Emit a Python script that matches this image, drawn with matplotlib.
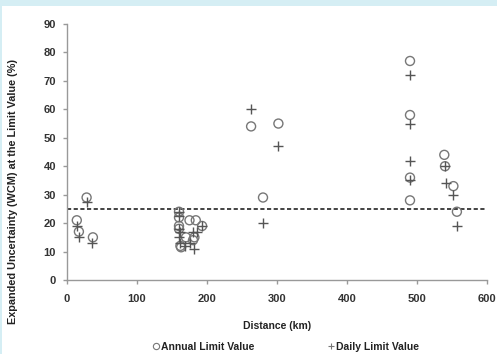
import matplotlib
matplotlib.use("Agg")
import matplotlib.pyplot as plt
from matplotlib.patches import Rectangle
from matplotlib.lines import Line2D

plt.rcParams['font.family'] = ['Liberation Sans', 'DejaVu Sans']

annual_x = [14, 17, 28, 37,
            160, 160, 160, 160, 162, 163, 175, 184, 170, 180, 182, 193,
            263, 302, 280,
            490, 490, 490, 490,
            539, 540, 552, 557]
annual_y = [21, 17, 29, 15,
            24, 22, 19, 18, 12, 11.5, 21, 21, 15, 14, 15, 19,
            54, 55, 29,
            77, 58, 36, 28,
            44, 40, 33, 24]

daily_x = [14, 17, 28, 36,
           160, 160, 160, 161, 160, 162, 168, 175, 181, 180, 185, 193,
           263, 302, 280,
           490, 490, 490, 490,
           540, 541, 552, 557]
daily_y = [19, 15, 27.5, 13,
           24, 22.5, 18, 17, 15, 13, 12, 13, 11, 17, 17, 19,
           60, 47, 20,
           72, 55, 42, 35,
           40, 34, 30, 19]

limit_value = 25
x_ticks = [0, 100, 200, 300, 400, 500, 600]
y_ticks = [0, 10, 20, 30, 40, 50, 60, 70, 80, 90]

fig = plt.figure(figsize=(4.97, 3.54), dpi=100)
fig.patch.set_facecolor('#d5eef4')
fig.patches.append(Rectangle((2/497, 0), 1, 1 - 6/354, transform=fig.transFigure,
                             facecolor='white', edgecolor='none', zorder=-10))

ax = fig.add_axes([67/497, 1 - 280/354, 420/497, 256/354])
ax.set_facecolor('none')
ax.scatter(annual_x, annual_y, s=42, facecolors='none', edgecolors='#777777', linewidths=1.0, zorder=3)
ax.scatter(daily_x, daily_y, s=42, marker='+', color='#555555', linewidths=1.0, zorder=3)
ax.axhline(limit_value, color='#222222', linestyle=(0, (2.5, 1.5)), linewidth=1.2, zorder=2)

ax.set_xlim(0, 600)
ax.set_ylim(0, 90)
ax.set_xticks(x_ticks)
ax.set_yticks(y_ticks)
for s in ['top', 'right']:
    ax.spines[s].set_visible(False)
for s in ['left', 'bottom']:
    ax.spines[s].set_color('#999999')
    ax.spines[s].set_linewidth(1.0)
ax.tick_params(axis='both', colors='#999999', length=3, width=1.0, labelcolor='#333333',
               labelsize=8)
ax.tick_params(axis='x', pad=7)
ax.tick_params(axis='y', pad=5)
for lbl in ax.get_xticklabels() + ax.get_yticklabels():
    lbl.set_fontweight('bold')

ax.set_xlabel('Distance (km)', fontsize=7.5, fontweight='bold', color='#222222')
ax.xaxis.set_label_coords(0.5, -0.16)
ax.set_ylabel('Expanded Uncertainty (WCM) at the Limit Value (%)', fontsize=7.8,
              fontweight='bold', color='#222222')
ax.yaxis.set_label_coords(-0.116, 0.345)

handles = [Line2D([], [], marker='o', linestyle='none', markerfacecolor='none',
                  markeredgecolor='#777777', markersize=4.5, markeredgewidth=0.8),
           Line2D([], [], marker='+', linestyle='none', color='#777777', markersize=5,
                  markeredgewidth=0.8)]
leg = fig.legend(handles, ['Annual Limit Value', 'Daily Limit Value'], loc='lower center',
                 bbox_to_anchor=(0.575, -0.02), ncol=2, frameon=False, handlelength=0.6,
                 handletextpad=0.2, columnspacing=7.0,
                 prop={'size': 7.5, 'weight': 'bold'})
for t in leg.get_texts():
    t.set_color('#222222')

fig.savefig('out.png', dpi=100, facecolor=fig.get_facecolor())
